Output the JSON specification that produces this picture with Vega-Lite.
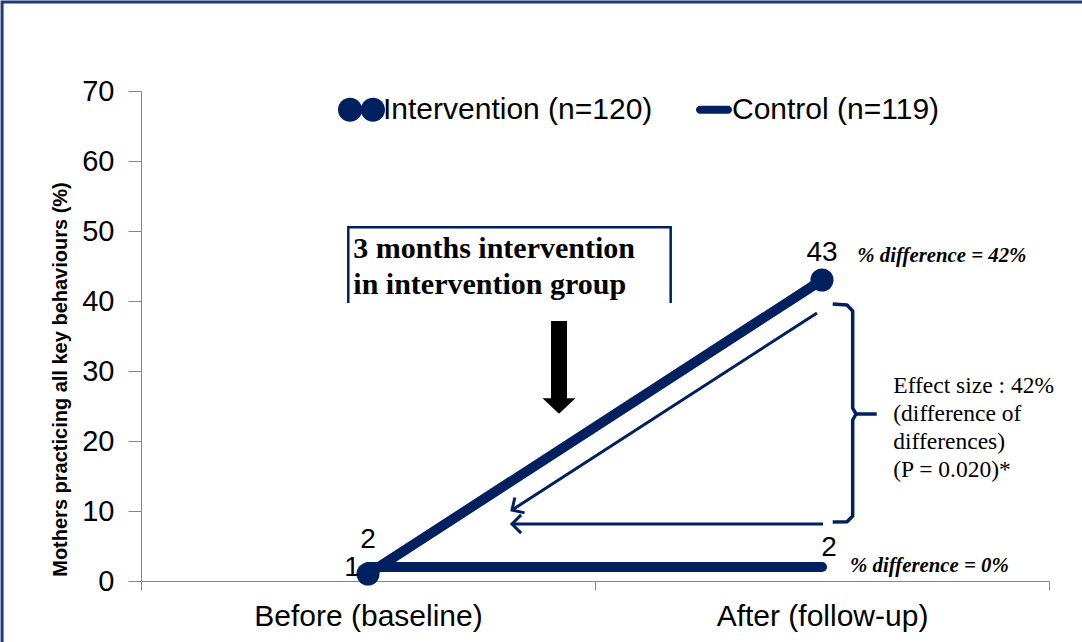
{
  "$schema": "https://vega.github.io/schema/vega-lite/v6.json",
  "width": 908,
  "height": 490,
  "autosize": {"type": "none"},
  "padding": {"left": 141, "top": 91, "right": 33, "bottom": 61},
  "background": "white",
  "config": {"view": {"stroke": null}, "font": "Liberation Sans"},
  "datasets": {
    "series": [
      {"time": "Before (baseline)", "group": "Intervention (n=120)", "value": 1},
      {"time": "After (follow-up)", "group": "Intervention (n=120)", "value": 43},
      {"time": "Before (baseline)", "group": "Control (n=119)", "value": 2},
      {"time": "After (follow-up)", "group": "Control (n=119)", "value": 2}
    ],
    "frame": [{"x": -0.306, "x2": 2.3, "y": 82.71, "y2": -12}],
    "box": [
      {"x": 0.4566, "y": 39.71, "o": 1},
      {"x": 0.4566, "y": 50.53, "o": 2},
      {"x": 1.1667, "y": 50.53, "o": 3},
      {"x": 1.1667, "y": 39.71, "o": 4}
    ],
    "boxText": [{"x": 0.4676, "y": 46.1, "text": "3 months intervention\nin intervention group"}],
    "shaft": [{"x": 0.9207, "y": 37.14, "y2": 25.86}],
    "head": [{"x": 0.9207, "y": 25.0}],
    "diag": [
      {"x": 1.489, "y": 38.29, "o": 1},
      {"x": 0.8172, "y": 10.14, "o": 2}
    ],
    "diagTip": [{"x": 0.8172, "y": 10.14}],
    "horiz": [
      {"x": 1.5022, "y": 8.14, "o": 1},
      {"x": 0.8172, "y": 8.14, "o": 2}
    ],
    "horizTip": [{"x": 0.8172, "y": 8.14}],
    "brace": [
      {"seg": "a", "o": 1, "x": 1.5236, "y": 39.57},
      {"seg": "a", "o": 2, "x": 1.5551, "y": 39.43},
      {"seg": "a", "o": 3, "x": 1.5676, "y": 38.57},
      {"seg": "a", "o": 4, "x": 1.5676, "y": 24.71},
      {"seg": "a", "o": 5, "x": 1.5750, "y": 23.86},
      {"seg": "a", "o": 6, "x": 1.6205, "y": 23.86},
      {"seg": "b", "o": 1, "x": 1.5750, "y": 23.86},
      {"seg": "b", "o": 2, "x": 1.5676, "y": 23.0},
      {"seg": "b", "o": 3, "x": 1.5676, "y": 9.29},
      {"seg": "b", "o": 4, "x": 1.5551, "y": 8.47},
      {"seg": "b", "o": 5, "x": 1.5236, "y": 8.43}
    ],
    "effect": [{"x": 1.657, "y": 26.81, "text": "Effect size : 42%\n(difference of\ndifferences)\n(P = 0.020)*"}],
    "diffs": [
      {"x": 1.5777, "y": 45.61, "text": "% difference = 42%"},
      {"x": 1.5617, "y": 1.29, "text": "% difference = 0%"}
    ]
  },
  "layer": [
    {
      "data": {"name": "series"},
      "encoding": {
        "x": {
          "field": "time",
          "type": "nominal",
          "sort": ["Before (baseline)", "After (follow-up)"],
          "bandPosition": 0.5,
          "scale": {"type": "band", "paddingInner": 0, "paddingOuter": 0},
          "axis": {
            "title": null,
            "tickBand": "extent",
            "domainColor": "#868686",
            "tickColor": "#868686",
            "tickSize": 9,
            "labelFontSize": 30,
            "labelFont": "Liberation Sans",
            "labelColor": "#000000",
            "labelPadding": 11,
            "labelAngle": 0,
            "labelLimit": 500,
            "grid": false
          }
        },
        "y": {
          "field": "value",
          "type": "quantitative",
          "scale": {"domain": [0, 70], "nice": false},
          "axis": {
            "values": [0, 10, 20, 30, 40, 50, 60, 70],
            "title": "Mothers practicing all key behaviours (%)",
            "titleFont": "Liberation Sans",
            "titleFontSize": 20,
            "titleFontWeight": "bold",
            "titleColor": "#000000",
            "titleX": -71,
            "titleY": 288,
            "domainColor": "#868686",
            "tickColor": "#868686",
            "tickSize": 13,
            "labelFontSize": 29,
            "labelFont": "Liberation Sans",
            "labelColor": "#000000",
            "labelPadding": 14,
            "grid": false
          }
        }
      },
      "layer": [
        {
          "mark": {"type": "line", "strokeWidth": 10, "strokeCap": "round", "color": "#002060"},
          "encoding": {"detail": {"field": "group"}}
        },
        {
          "transform": [{"filter": "datum.group === 'Intervention (n=120)'"}],
          "mark": {"type": "circle", "size": 530, "color": "#002060", "opacity": 1}
        },
        {
          "mark": {"type": "point", "filled": true, "opacity": 0, "color": "#002060"},
          "encoding": {
            "shape": {
              "field": "group",
              "type": "nominal",
              "scale": {
                "domain": ["Intervention (n=120)", "Control (n=119)"],
                "range": [
                  "M-1,0A0.513,0.513,0,1,1,0.026,0A0.513,0.513,0,1,1,-1,0ZM-0.026,0A0.513,0.513,0,1,1,1,0A0.513,0.513,0,1,1,-0.026,0Z",
                  "M-0.447,-0.17L0.745,-0.17A0.17,0.17,0,0,1,0.745,0.17L-0.447,0.17A0.17,0.17,0,0,1,-0.447,-0.17Z"
                ]
              },
              "legend": {
                "orient": "none",
                "legendX": 197,
                "legendY": -5,
                "direction": "horizontal",
                "columns": 2,
                "title": null,
                "labelFontSize": 30,
                "labelFont": "Liberation Sans",
                "labelColor": "#000000",
                "labelOffset": -2,
                "labelLimit": 500,
                "symbolSize": 2209,
                "symbolOpacity": 1,
                "symbolFillColor": "#002060",
                "symbolStrokeWidth": 0,
                "columnPadding": 34
              }
            }
          }
        },
        {
          "transform": [{"filter": "(datum.group === 'Intervention (n=120)' && datum.value === 43) || (datum.group === 'Control (n=119)' && datum.time === 'Before (baseline)')"}],
          "mark": {"type": "text", "fontSize": 28, "font": "Liberation Sans", "color": "#000000", "dy": -27, "baseline": "middle"},
          "encoding": {"text": {"field": "value", "type": "quantitative"}}
        },
        {
          "transform": [{"filter": "datum.group === 'Control (n=119)' && datum.time === 'After (follow-up)'"}],
          "mark": {"type": "text", "fontSize": 28, "font": "Liberation Sans", "color": "#000000", "dy": -19, "dx": 7, "baseline": "middle"},
          "encoding": {"text": {"field": "value", "type": "quantitative"}}
        },
        {
          "transform": [{"filter": "datum.group === 'Intervention (n=120)' && datum.time === 'Before (baseline)'"}],
          "mark": {"type": "text", "fontSize": 28, "font": "Liberation Sans", "color": "#000000", "dx": -16, "dy": -6, "baseline": "middle"},
          "encoding": {"text": {"field": "value", "type": "quantitative"}}
        }
      ]
    },
    {
      "layer": [
        {
          "data": {"name": "frame"},
          "mark": {"type": "rect", "fill": null, "stroke": "#1F3A7A", "strokeWidth": 3, "clip": false},
          "encoding": {
            "x": {"field": "x", "type": "quantitative", "scale": {"domain": [0, 2], "nice": false, "zero": false}, "axis": null},
            "x2": {"field": "x2"},
            "y": {"field": "y", "type": "quantitative", "axis": null},
            "y2": {"field": "y2"}
          }
        },
        {
          "data": {"name": "box"},
          "mark": {"type": "line", "color": "#002060", "strokeWidth": 2.5},
          "encoding": {
            "x": {"field": "x", "type": "quantitative", "axis": null},
            "y": {"field": "y", "type": "quantitative", "axis": null},
            "order": {"field": "o"}
          }
        },
        {
          "data": {"name": "boxText"},
          "mark": {"type": "text", "align": "left", "baseline": "alphabetic", "font": "Liberation Serif", "fontWeight": "bold", "fontSize": 30, "lineHeight": 36, "lineBreak": "\n", "color": "#000000"},
          "encoding": {
            "x": {"field": "x", "type": "quantitative", "axis": null},
            "y": {"field": "y", "type": "quantitative", "axis": null},
            "text": {"field": "text"}
          }
        },
        {
          "data": {"name": "shaft"},
          "mark": {"type": "rule", "color": "#000000", "strokeWidth": 16, "strokeCap": "butt"},
          "encoding": {
            "x": {"field": "x", "type": "quantitative", "axis": null},
            "y": {"field": "y", "type": "quantitative", "axis": null},
            "y2": {"field": "y2"}
          }
        },
        {
          "data": {"name": "head"},
          "mark": {"type": "point", "shape": "M-1,-0.47L1,-0.47L0,0.47Z", "size": 1089, "filled": true, "color": "#000000", "opacity": 1},
          "encoding": {
            "x": {"field": "x", "type": "quantitative", "axis": null},
            "y": {"field": "y", "type": "quantitative", "axis": null}
          }
        },
        {
          "data": {"name": "diag"},
          "mark": {"type": "line", "color": "#002060", "strokeWidth": 3},
          "encoding": {
            "x": {"field": "x", "type": "quantitative", "axis": null},
            "y": {"field": "y", "type": "quantitative", "axis": null},
            "order": {"field": "o"}
          }
        },
        {
          "data": {"name": "horiz"},
          "mark": {"type": "line", "color": "#002060", "strokeWidth": 3},
          "encoding": {
            "x": {"field": "x", "type": "quantitative", "axis": null},
            "y": {"field": "y", "type": "quantitative", "axis": null},
            "order": {"field": "o"}
          }
        },
        {
          "data": {"name": "diagTip"},
          "mark": {"type": "point", "shape": "M0.7,-0.7L0,0L0.7,0.7", "size": 676, "filled": false, "strokeWidth": 3, "color": "#002060", "opacity": 1, "angle": 327.7},
          "encoding": {
            "x": {"field": "x", "type": "quantitative", "axis": null},
            "y": {"field": "y", "type": "quantitative", "axis": null}
          }
        },
        {
          "data": {"name": "horizTip"},
          "mark": {"type": "point", "shape": "M0.7,-0.7L0,0L0.7,0.7", "size": 676, "filled": false, "strokeWidth": 3, "color": "#002060", "opacity": 1},
          "encoding": {
            "x": {"field": "x", "type": "quantitative", "axis": null},
            "y": {"field": "y", "type": "quantitative", "axis": null}
          }
        },
        {
          "data": {"name": "brace"},
          "mark": {"type": "line", "color": "#002060", "strokeWidth": 3.5, "strokeJoin": "round"},
          "encoding": {
            "x": {"field": "x", "type": "quantitative", "axis": null},
            "y": {"field": "y", "type": "quantitative", "axis": null},
            "detail": {"field": "seg"},
            "order": {"field": "o"}
          }
        },
        {
          "data": {"name": "effect"},
          "mark": {"type": "text", "align": "left", "baseline": "alphabetic", "font": "Liberation Serif", "fontSize": 23.5, "lineHeight": 28, "lineBreak": "\n", "color": "#000000"},
          "encoding": {
            "x": {"field": "x", "type": "quantitative", "axis": null},
            "y": {"field": "y", "type": "quantitative", "axis": null},
            "text": {"field": "text"}
          }
        },
        {
          "data": {"name": "diffs"},
          "mark": {"type": "text", "align": "left", "baseline": "alphabetic", "font": "Liberation Serif", "fontSize": 20.8, "fontWeight": "bold", "fontStyle": "italic", "color": "#000000"},
          "encoding": {
            "x": {"field": "x", "type": "quantitative", "axis": null},
            "y": {"field": "y", "type": "quantitative", "axis": null},
            "text": {"field": "text"}
          }
        }
      ]
    }
  ],
  "resolve": {"scale": {"x": "independent"}, "axis": {"y": "independent"}}
}
